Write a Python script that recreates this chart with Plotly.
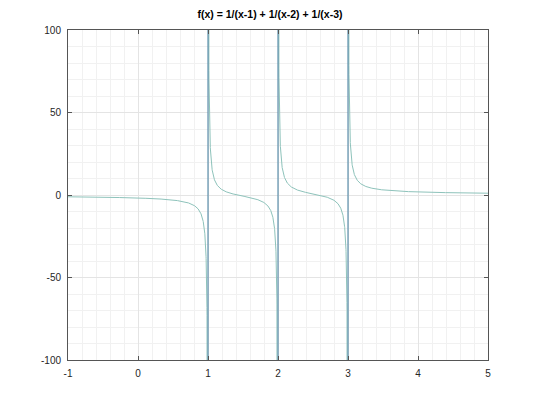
import numpy as np
import plotly.graph_objects as go

# Data: the plotted function f(x) = 1/(x-1) + 1/(x-2) + 1/(x-3), sampled on [-1, 5]
title = "f(x) = 1/(x-1) + 1/(x-2) + 1/(x-3)"
poles = [1, 2, 3]
x_start, x_end, n_pts = -1.0, 5.0, 6001
x_ticks = [-1, 0, 1, 2, 3, 4, 5]
x_tick_labels = ["-1", "0", "1", "2", "3", "4", "5"]
y_ticks = [-100, -50, 0, 50, 100]
y_tick_labels = ["-100", "-50", "0", "50", "100"]

xs = np.linspace(x_start, x_end, n_pts)
xs = xs[~np.isin(np.round(xs, 9), poles)]
ys = sum(1.0 / (xs - p) for p in poles)

# Break the curve at each pole
cx, cy = [], []
prev = None
for xv, yv in zip(xs, ys):
    if prev is not None and any(prev < p < xv for p in poles):
        cx.append(None); cy.append(None)
    cx.append(xv); cy.append(yv)
    prev = xv

# Vertical segments where the sampled line crosses each pole
vx, vy = [], []
for p in poles:
    vx += [p, p, None]
    vy += [y_ticks[0], y_ticks[-1], None]

fig = go.Figure()
fig.add_trace(go.Scatter(x=cx, y=cy, mode="lines",
                         line=dict(color="#8ec3bb", width=1), hoverinfo="skip"))
fig.add_trace(go.Scatter(x=vx, y=vy, mode="lines",
                         line=dict(color="#4f87a6", width=1.1), hoverinfo="skip"))

axis_common = dict(
    showline=True, linecolor="#555555", linewidth=1, mirror="ticks",
    ticks="inside", ticklen=4, tickcolor="#555555",
    showgrid=True, gridcolor="#e4e4e4", gridwidth=1,
    zeroline=False,
    tickfont=dict(family="Liberation Sans, Arial, sans-serif", size=10, color="#262626"),
)

fig.update_xaxes(range=[x_start, x_end], tickvals=x_ticks, ticktext=x_tick_labels,
                 ticklabelstandoff=4,
                 minor=dict(dtick=0.2, showgrid=True, gridcolor="#f1f1f1", ticks=""),
                 **axis_common)
fig.update_yaxes(range=[y_ticks[0], y_ticks[-1]], tickvals=y_ticks, ticktext=y_tick_labels,
                 ticklabelstandoff=4,
                 minor=dict(dtick=10, showgrid=True, gridcolor="#f1f1f1", ticks=""),
                 **axis_common)

fig.update_layout(
    width=540, height=405,
    margin=dict(l=68, r=52, t=30, b=45),
    paper_bgcolor="white", plot_bgcolor="white",
    showlegend=False,
    title=dict(text="<b>" + title + "</b>", x=0.5, xanchor="center",
               y=1 - 14 / 405, yanchor="middle",
               font=dict(family="Liberation Sans, Arial, sans-serif", size=10.5, color="#000000")),
)

fig.write_html("out.html", config={"displayModeBar": False},
               post_script="document.body.style.margin='0';")
